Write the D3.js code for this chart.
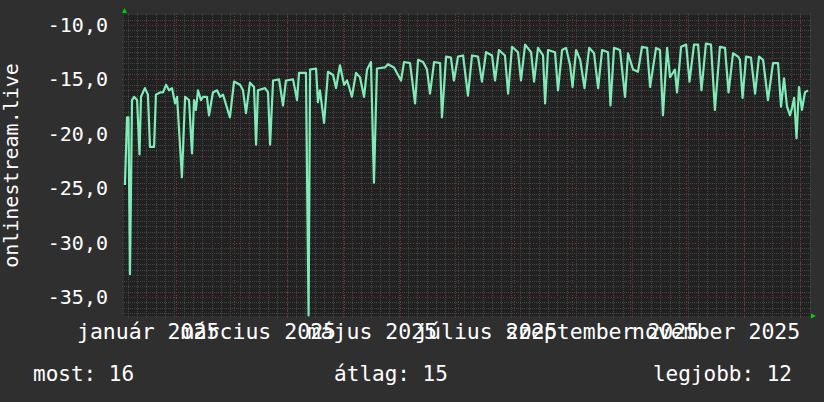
<!DOCTYPE html>
<html>
<head>
<meta charset="utf-8">
<script src="https://cdn.jsdelivr.net/npm/d3@7"></script>
<style>
  body { margin: 0; background: #2f2f2f; }
  svg { display: block; }
  text { font-family: "DejaVu Sans Mono", monospace; fill: #ffffff; }
</style>
</head>
<body>
<script>
const width = 824, height = 402;
const plot = {left: 124, right: 810, top: 15, bottom: 316};

// days since 2024-12-18 (UTC) and rank value
const days = [0.5,1.6,2.4,3.2,4.3,5.4,7.0,8.3,9.1,11.2,12.8,13.9,16.1,17.1,19.3,20.9,22.5,24.1,25.7,27.3,28.4,31.0,32.7,34.8,36.4,37.5,38.5,39.6,41.2,42.3,44.4,45.5,47.6,49.8,51.4,53.0,56.7,58.9,62.1,63.7,65.3,67.4,69.6,70.7,71.7,75.5,77.1,78.2,79.8,83.0,85.1,86.7,90.5,92.6,93.7,97.4,98.8,99.6,102.8,103.8,104.9,107.1,109.2,111.9,113.5,115.6,117.8,119.4,121.0,122.0,124.2,126.3,128.5,130.1,132.2,133.8,135.4,139.7,141.3,144.5,148.3,149.9,153.1,155.8,157.4,160.1,162.2,163.8,166.0,169.2,170.2,172.4,175.0,176.6,178.8,181.5,184.1,186.3,189.5,191.6,193.8,197.0,198.6,200.7,203.9,205.6,207.7,210.9,212.5,214.7,217.9,219.5,221.6,224.3,225.4,227.0,230.7,232.3,234.5,236.6,238.8,240.1,242.0,244.2,246.5,249.0,251.6,253.8,255.9,259.1,260.4,262.3,265.5,268.2,269.8,272.5,275.1,277.3,280.0,281.6,284.8,286.9,288.5,290.7,292.3,294.9,296.0,298.2,300.9,302.7,305.1,307.3,309.1,311.5,314.2,316.3,319.0,321.7,323.6,326.0,328.7,329.7,331.1,333.0,335.6,337.8,339.9,342.1,344.7,347.4,350.1,351.7,353.3,354.9,356.5,357.6,358.7,360.0,361.3,362.9,364.5,366.1];
const values = [-24.7,-18.5,-18.5,-32.9,-16.9,-16.6,-16.9,-21.9,-16.6,-15.8,-16.4,-21.2,-21.2,-16.4,-16.2,-16.2,-15.5,-16.0,-15.8,-17.2,-16.6,-24.0,-16.6,-16.9,-21.8,-16.9,-17.8,-16.0,-16.9,-16.6,-16.6,-18.3,-16.2,-16.0,-16.6,-16.4,-18.5,-15.2,-15.5,-16.0,-18.1,-15.3,-15.7,-21.0,-16.0,-15.8,-16.2,-21.0,-15.1,-15.0,-17.4,-15.1,-15.0,-16.9,-14.4,-14.4,-36.7,-14.1,-14.0,-17.1,-16.0,-19.0,-14.3,-14.6,-15.8,-13.7,-15.5,-15.1,-16.0,-16.6,-14.4,-14.8,-16.6,-14.1,-13.4,-24.5,-14.0,-13.9,-13.6,-13.9,-15.1,-13.4,-13.5,-17.2,-13.2,-13.4,-14.1,-16.3,-13.4,-13.5,-18.5,-12.9,-13.0,-15.1,-12.9,-12.8,-16.5,-12.8,-12.9,-15.2,-12.5,-12.8,-15.1,-12.3,-12.8,-16.3,-12.0,-12.5,-15.1,-11.8,-12.5,-15.2,-12.1,-12.8,-17.2,-12.3,-12.5,-16.0,-12.3,-12.1,-13.7,-15.7,-12.3,-13.2,-15.8,-12.1,-12.6,-15.8,-12.3,-12.5,-17.4,-12.1,-12.3,-16.6,-12.6,-14.1,-14.3,-12.0,-12.1,-15.7,-12.1,-12.3,-18.3,-12.1,-14.8,-14.1,-16.2,-12.0,-11.8,-15.2,-11.8,-11.8,-16.0,-11.7,-11.8,-17.8,-12.0,-12.1,-16.2,-12.6,-12.9,-13.2,-16.7,-12.9,-13.0,-16.3,-12.9,-13.2,-16.9,-13.5,-13.5,-17.5,-14.9,-17.5,-18.3,-17.6,-16.7,-20.4,-15.7,-17.8,-16.2,-16.0];

const yTicks = [-35, -30, -25, -20, -15, -10];
const monthNames = ["január", "február", "március", "április", "május", "június",
  "július", "augusztus", "szeptember", "október", "november", "december"];
const yTitle = "onlinestream.live";
const legendLabels = ["most", "átlag", "legjobb"];
const legendValues = [16, 15, 12];

const DAY = 864e5;
const start = Date.UTC(2024, 11, 18);
const end = start + 367.2 * DAY;

const x = d3.scaleUtc().domain([start, end]).range([plot.left, plot.right]);
const y = d3.scaleLinear().domain([-36.75, -9.08]).range([plot.bottom, plot.top]);

const huFormat = d3.formatLocale({decimal: ",", thousands: " ", grouping: [3], currency: ["", " Ft"], minus: "-"}).format(".1f");

const svg = d3.select("body").append("svg")
  .attr("width", width)
  .attr("height", height);

svg.append("rect")
  .attr("x", plot.left).attr("y", plot.top)
  .attr("width", plot.right - plot.left).attr("height", plot.bottom - plot.top)
  .attr("fill", "#212121");

// minor grid
const minorY = d3.range(-36.5, -9, 0.5).filter(v => v % 5 !== 0);
svg.append("g").selectAll("line")
  .data(minorY)
  .enter().append("line")
  .attr("x1", plot.left - 2).attr("x2", plot.right + 2)
  .attr("y1", d => Math.round(y(d)) + 0.5).attr("y2", d => Math.round(y(d)) + 0.5)
  .attr("stroke", "#444444").attr("stroke-dasharray", "1,1");

const minorX = d3.range(start + 2 * DAY, end, 5 * DAY);
svg.append("g").selectAll("line")
  .data(minorX)
  .enter().append("line")
  .attr("x1", d => Math.round(x(d)) + 0.5).attr("x2", d => Math.round(x(d)) + 0.5)
  .attr("y1", plot.top - 2).attr("y2", plot.bottom + 2)
  .attr("stroke", "#444444").attr("stroke-dasharray", "1,1");

// major grid
svg.append("g").selectAll("line")
  .data(yTicks)
  .enter().append("line")
  .attr("x1", plot.left - 2).attr("x2", plot.right + 2)
  .attr("y1", d => Math.round(y(d)) + 0.5).attr("y2", d => Math.round(y(d)) + 0.5)
  .attr("stroke", "#7a3434").attr("stroke-dasharray", "1,2");

const majorX = d3.utcMonth.range(new Date(start), new Date(end)).map(d => d3.utcDay.offset(d, 14));
svg.append("g").selectAll("line")
  .data(majorX.filter(d => d < end))
  .enter().append("line")
  .attr("x1", d => Math.round(x(d)) + 0.5).attr("x2", d => Math.round(x(d)) + 0.5)
  .attr("y1", plot.top - 2).attr("y2", plot.bottom + 2)
  .attr("stroke", "#7a3434").attr("stroke-dasharray", "1,2");

// series
const series = d3.zip(days, values).map(([d, v]) => ({t: start + d * DAY, v}));
svg.append("path")
  .datum(series)
  .attr("fill", "none")
  .attr("stroke", "#7cedb6")
  .attr("stroke-width", 2.2)
  .attr("stroke-linejoin", "round")
  .attr("d", d3.line().x(d => x(d.t)).y(d => y(d.v)));

// arrows
svg.append("path")
  .attr("d", `M${plot.left - 2},${plot.top - 2}L${plot.left + 3},${plot.top - 2}L${plot.left + 0.5},${plot.top - 7}Z`)
  .attr("fill", "#00d000");
svg.append("path")
  .attr("d", `M${plot.right + 1},${plot.bottom - 2.5}L${plot.right + 1},${plot.bottom + 2.5}L${plot.right + 6},${plot.bottom}Z`)
  .attr("fill", "#00d000");

// y labels
svg.append("g").selectAll("text")
  .data(yTicks)
  .enter().append("text")
  .attr("x", 108)
  .attr("y", d => y(d) + 7)
  .attr("text-anchor", "end")
  .style("font-size", "20px")
  .text(d => huFormat(d));

svg.append("text")
  .attr("transform", `translate(18,${(plot.top + plot.bottom) / 2}) rotate(-90)`)
  .attr("text-anchor", "middle")
  .style("font-size", "20px")
  .text(yTitle);

// x labels
const labelMonths = d3.utcMonth.every(2).range(new Date(Date.UTC(2025, 0, 1)), new Date(end));
svg.append("g").selectAll("text")
  .data(labelMonths)
  .enter().append("text")
  .attr("x", d => x(d) - 2)
  .attr("y", 338.5)
  .attr("text-anchor", "middle")
  .style("font-size", "21.5px")
  .text(d => `${monthNames[d.getUTCMonth()]} ${d.getUTCFullYear()}`);

// legend
const legendX = [33, 391, 792];
const legendAnchor = ["start", "middle", "end"];
legendLabels.forEach((label, i) => {
  svg.append("text")
    .attr("x", legendX[i])
    .attr("y", 381)
    .attr("text-anchor", legendAnchor[i])
    .style("font-size", "21px")
    .text(`${label}: ${legendValues[i]}`);
});
</script>
</body>
</html>
